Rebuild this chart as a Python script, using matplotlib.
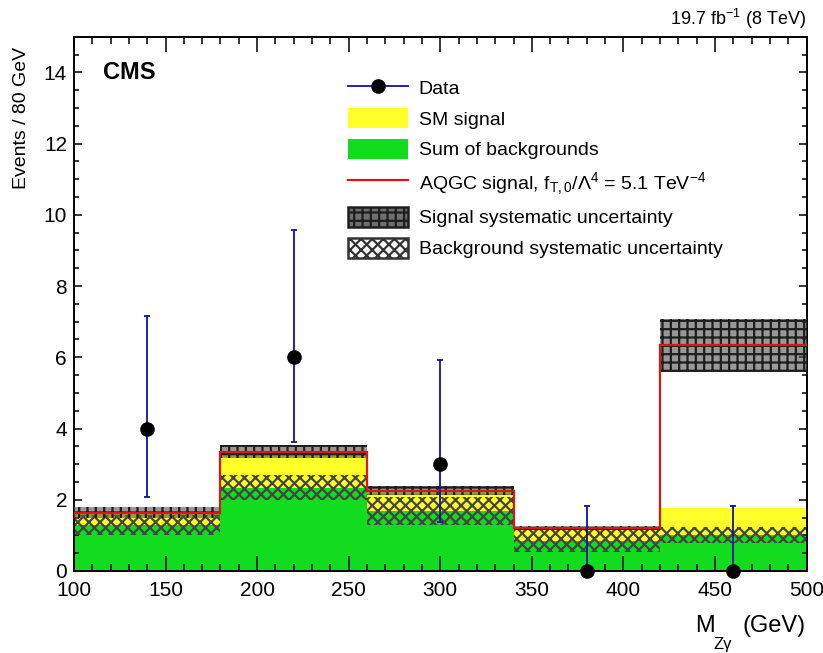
import matplotlib
matplotlib.use('Agg')
import numpy as np
import matplotlib.pyplot as plt
from matplotlib.lines import Line2D
from matplotlib.patches import Patch
from matplotlib.ticker import MultipleLocator

# Bin edges of M_Zgamma (GeV) and expected yields per bin
edges = [100, 180, 260, 340, 420, 500]
bkg = [1.29, 2.34, 1.69, 0.85, 1.01]          # sum of backgrounds
sm_signal = [0.35, 1.01, 0.56, 0.35, 0.75]    # SM signal on top of backgrounds
aqgc = [1.64, 3.35, 2.25, 1.20, 6.34]         # AQGC signal (total prediction)
sig_unc = [0.15, 0.19, 0.13, 0.06, 0.74]
bkg_unc = [0.28, 0.35, 0.40, 0.31, 0.23]

# Observed data
data_x = [140, 220, 300, 380, 460]
data_y = [4, 6, 3, 0, 0]
data_lo = [2.07, 3.63, 1.38, 0.0, 0.0]
data_hi = [7.16, 9.57, 5.92, 1.83, 1.83]

plt.rcParams['font.family'] = ['Liberation Sans', 'DejaVu Sans']
plt.rcParams['mathtext.fontset'] = 'custom'
plt.rcParams['mathtext.rm'] = 'Liberation Sans'
plt.rcParams['mathtext.it'] = 'Liberation Sans'
plt.rcParams['hatch.linewidth'] = 1.6

green = '#12dc1e'
yellow = '#ffff2a'
red = '#dd1515'
blue = '#1010b0'

fig = plt.figure(figsize=(8.23, 6.53), dpi=100)
ax = fig.add_axes([0.0899, 0.1256, 0.8901, 0.8182])

bkg = np.array(bkg)
tot_sm = bkg + np.array(sm_signal)
aqgc = np.array(aqgc)

# stacked histograms
ax.stairs(bkg, edges, baseline=0, fill=True, color=green, lw=0, zorder=1)
ax.stairs(tot_sm, edges, baseline=bkg, fill=True, color=yellow, lw=0, zorder=1)

# background systematic band
ax.stairs(bkg + np.array(bkg_unc), edges, baseline=bkg - np.array(bkg_unc),
          fill=True, facecolor='none', edgecolor='#444444', hatch='xxx',
          lw=0, zorder=2)
# signal systematic band
ax.stairs(aqgc + np.array(sig_unc), edges, baseline=aqgc - np.array(sig_unc),
          fill=True, facecolor=(0.33, 0.33, 0.33, 0.6), edgecolor='#1e1e1e',
          hatch='++', lw=0, zorder=3)

# AQGC line
ax.stairs(aqgc, edges, baseline=None, color=red, lw=1.6, zorder=4)

# data
yerr = [np.array(data_y) - np.array(data_lo), np.array(data_hi) - np.array(data_y)]
ax.errorbar(data_x, data_y, yerr=yerr, fmt='o', color='black', ms=9.5,
            ecolor=blue, elinewidth=1.3, capsize=2.5, capthick=1.3,
            zorder=6, clip_on=False)

ax.set_xlim(100, 500)
ax.set_ylim(0, 15)
ax.xaxis.set_major_locator(MultipleLocator(50))
ax.xaxis.set_minor_locator(MultipleLocator(10))
ax.yaxis.set_major_locator(MultipleLocator(2))
ax.yaxis.set_minor_locator(MultipleLocator(0.5))
ax.tick_params(which='both', direction='in', top=True, right=True,
               width=1.1, labelsize=15)
ax.tick_params(axis='x', which='major', length=10.8, pad=7.5)
ax.tick_params(axis='x', which='minor', length=5)
ax.tick_params(axis='y', which='major', length=5.8, pad=5)
ax.tick_params(axis='y', which='minor', length=3.4)
for s in ax.spines.values():
    s.set_linewidth(1.4)

ax.set_ylabel('Events / 80 GeV', fontsize=14, loc='top')
ax.yaxis.set_label_coords(-0.060, 0.981)

# x label, ROOT style with low subscript
fig.text(695 / 823, 1 - 632 / 653, 'M', fontsize=17, ha='left', va='baseline')
fig.text(713 / 823, 1 - 649 / 653, 'Z\u03b3', fontsize=12, ha='left', va='baseline')
fig.text(806 / 823, 1 - 632 / 653, '(GeV)', fontsize=17, ha='right', va='baseline')

fig.text(806 / 823, 1 - 25 / 653, r'19.7 fb$^{-1}$ (8 TeV)', fontsize=13,
         ha='right', va='baseline')
ax.text(115.8, 14.0, 'CMS', fontsize=17, fontweight='bold', ha='left', va='center')

handles = [
    Line2D([], [], color=blue, lw=1.3, marker='o', mfc='black', mec='black', ms=9.5),
    Patch(facecolor=yellow, edgecolor='none'),
    Patch(facecolor=green, edgecolor='none'),
    Line2D([], [], color=red, lw=1.6),
    Patch(facecolor='#6e6e6e', edgecolor='#1e1e1e', hatch='++', lw=1.8),
    Patch(facecolor='white', edgecolor='#333333', hatch='xxx', lw=1.8),
]
labels = ['Data', 'SM signal', 'Sum of backgrounds',
          r'AQGC signal, f$_{\mathregular{T,0}}$/$\Lambda^{4}$ = 5.1 TeV$^{-4}$',
          'Signal systematic uncertainty', 'Background systematic uncertainty']
ax.legend(handles, labels, loc='upper left', bbox_to_anchor=(0.374, 0.924),
          frameon=False, fontsize=14, handlelength=3.07, handleheight=1.2,
          labelspacing=0.53, handletextpad=0.56, borderpad=0, borderaxespad=0)

fig.savefig('out.png', dpi=100)
